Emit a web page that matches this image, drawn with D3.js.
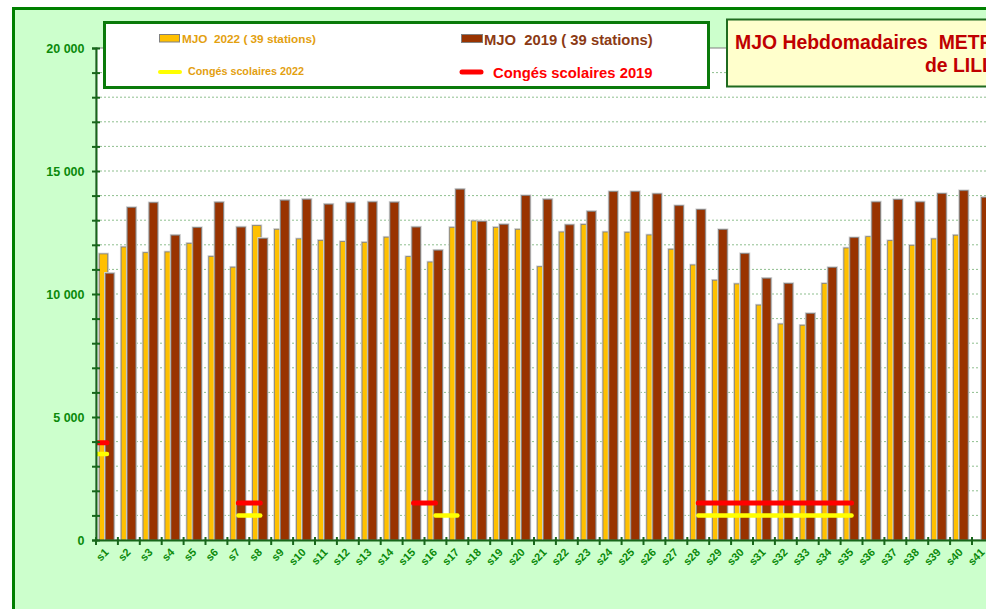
<!DOCTYPE html>
<html>
<head>
<meta charset="utf-8">
<script src="https://cdn.jsdelivr.net/npm/d3@7"></script>
<style>
  html, body { margin: 0; padding: 0; background: #ffffff; }
  svg { display: block; font-family: "Liberation Sans", Arial, sans-serif; }
  text { white-space: pre; }
</style>
</head>
<body>
<svg id="chart" width="986" height="609"></svg>
<script>
// ---- Data ----
const weeks = d3.range(1, 42).map(i => "s" + i);
const mjo2022 = [11630, 11910, 11680, 11710, 12060, 11530, 11090, 12780, 12630, 12240,
                 12180, 12130, 12100, 12310, 11520, 11300, 12710, 12970, 12710, 12630,
                 11110, 12520, 12830, 12520, 12510, 12400, 11820, 11180, 10560, 10410,
                 9550, 8780, 8730, 10430, 11870, 12330, 12170, 11980, 12240, 12390];
const mjo2019 = [10840, 13520, 13710, 12390, 12700, 13730, 12720, 12260, 13810, 13850,
                 13650, 13710, 13740, 13730, 12720, 11780, 14260, 12950, 12830, 14000,
                 13850, 12810, 13360, 14160, 14160, 14070, 13590, 13430, 12620, 11640,
                 10640, 10430, 9210, 11080, 12290, 13740, 13840, 13740, 14080, 14200, 13930];
// school holidays: [first week, last week, level]; week 0 = last week of previous year
const conges2019 = [[0, 1, 3950], [7, 8, 1500], [15, 16, 1500], [28, 35, 1500]];
const conges2022 = [[0, 1, 3500], [7, 8, 1000], [16, 17, 1000], [28, 35, 1000]];
const yTicks = [0, 5000, 10000, 15000, 20000];
const legend2022 = "MJO  2022 ( 39 stations)";
const legend2019 = "MJO  2019 ( 39 stations)";
const legendC2022 = "Congés scolaires 2022";
const legendC2019 = "Congés scolaires 2019";
const title1 = "MJO Hebdomadaires  METRO";
const title2 = "de LILLE";

// ---- Layout ----
const svg = d3.select("#chart");
const plotLeft = 96, plotTop = 48, plotBottom = 540, bandW = 21.9;
const plotRight = plotLeft + weeks.length * bandW;

const x = d3.scaleBand().domain(weeks).range([plotLeft, plotRight]).padding(0);
const y = d3.scaleLinear().domain([0, 20000]).range([plotBottom, plotTop]);
const bw = x.bandwidth();
const xc = w => plotLeft + (w - 0.5) * bw; // center of week index w

// outer frame
svg.append("rect").attr("x", 13.5).attr("y", 8.5).attr("width", 1200).attr("height", 800)
  .attr("fill", "#ccffcc").attr("stroke", "#008000").attr("stroke-width", 3);

// plot area
svg.append("rect").attr("x", plotLeft).attr("y", plotTop)
  .attr("width", plotRight - plotLeft + 300).attr("height", plotBottom - plotTop)
  .attr("fill", "#ffffff").attr("stroke", "#808080").attr("stroke-width", 1);

svg.append("clipPath").attr("id", "plotclip").append("rect")
  .attr("x", plotLeft).attr("y", plotTop - 5).attr("width", plotRight - plotLeft + 300).attr("height", plotBottom - plotTop + 5);

// gridlines
svg.append("g").selectAll("line").data(d3.range(1000, 20000, 1000)).join("line")
  .attr("x1", plotLeft).attr("x2", plotRight + 300)
  .attr("y1", d => y(d)).attr("y2", d => y(d))
  .attr("stroke", "#8fbf8f").attr("stroke-width", 1).attr("stroke-dasharray", "2,2");

// bars
const bars = svg.append("g").attr("clip-path", "url(#plotclip)");
function drawBars(vals, off, wid, color) {
  const g = bars.append("g");
  const data = vals.map((v, i) => ({ w: weeks[i], v }));
  g.selectAll("rect.halo").data(data).join("rect").attr("class", "halo")
    .attr("x", d => x(d.w) + off * bw).attr("width", wid * bw)
    .attr("y", d => y(d.v)).attr("height", d => y(0) - y(d.v))
    .attr("fill", "none").attr("stroke", "#d4d4d4").attr("stroke-width", 2.5);
  g.selectAll("rect.bar").data(data).join("rect").attr("class", "bar")
    .attr("x", d => x(d.w) + off * bw).attr("width", wid * bw)
    .attr("y", d => y(d.v)).attr("height", d => y(0) - y(d.v))
    .attr("fill", color).attr("stroke", "#7f7f7f").attr("stroke-width", 0.8);
}
drawBars(mjo2022, 0.15, 0.385, "#ffc000");
drawBars(mjo2019, 0.425, 0.395, "#993300");

// holiday lines
const line = d3.line().x(d => xc(d[0])).y(d => y(d[1]));
function drawConges(segs, color, w) {
  bars.append("g").selectAll("path").data(segs).join("path")
    .attr("d", s => line([[s[0], s[2]], [s[1], s[2]]]))
    .attr("fill", "none").attr("stroke", color).attr("stroke-width", w)
    .attr("stroke-linecap", "round");
}
drawConges(conges2019, "#ff0000", 5);
drawConges(conges2022, "#ffff00", 4.5);

// y axis
const axisColor = "#17661a";
const labelColor = "#0b8a0b";
const yAxis = svg.append("g").attr("transform", `translate(${plotLeft},0)`)
  .call(d3.axisLeft(y).tickValues(d3.range(0, 20001, 1000)).tickSize(4).tickFormat(""));
yAxis.select(".domain").attr("stroke", axisColor).attr("stroke-width", 2);
yAxis.selectAll(".tick line").attr("stroke", axisColor).attr("stroke-width", 2).attr("x1", 4).attr("x2", -4);
svg.append("g").selectAll("text").data(yTicks).join("text")
  .attr("x", 84.5).attr("y", d => y(d)).attr("dy", "0.36em")
  .attr("text-anchor", "end").attr("font-size", "12.5px").attr("font-weight", "bold")
  .attr("fill", labelColor)
  .text(d => d3.format(",")(d).replace(/,/g, " "));

// x axis
const xAxis = svg.append("g").attr("transform", `translate(0,${plotBottom})`)
  .call(d3.axisBottom(x).tickSize(0).tickFormat(""));
xAxis.select(".domain").attr("stroke", axisColor).attr("stroke-width", 2);
svg.append("g").selectAll("line").data(d3.range(0, weeks.length + 1)).join("line")
  .attr("x1", i => plotLeft + i * bw).attr("x2", i => plotLeft + i * bw)
  .attr("y1", plotBottom - 3).attr("y2", plotBottom + 5)
  .attr("stroke", axisColor).attr("stroke-width", 2);
svg.append("g").selectAll("text").data(weeks).join("text")
  .attr("transform", d => `translate(${x(d) + bw / 2 + 2.5},${plotBottom + 13}) rotate(-45)`)
  .attr("text-anchor", "end").attr("font-size", "11px").attr("font-weight", "bold")
  .attr("fill", labelColor).text(d => d);

// legend box
const lg = svg.append("g");
lg.append("rect").attr("x", 104.5).attr("y", 22.5).attr("width", 604).attr("height", 65)
  .attr("fill", "#ffffff").attr("stroke", "#0a7a0a").attr("stroke-width", 3);
lg.append("rect").attr("x", 159.5).attr("y", 34.5).attr("width", 20).attr("height", 7.5)
  .attr("fill", "#ffc000").attr("stroke", "#808080").attr("stroke-width", 1);
lg.append("text").attr("x", 182).attr("y", 42.5).attr("font-size", "11.75px").attr("font-weight", "bold")
  .attr("fill", "#e3a00f").text(legend2022);
lg.append("line").attr("x1", 160).attr("x2", 180).attr("y1", 72).attr("y2", 72)
  .attr("stroke", "#ffff00").attr("stroke-width", 4).attr("stroke-linecap", "round");
lg.append("text").attr("x", 188).attr("y", 74.5).attr("font-size", "10.75px").attr("font-weight", "bold")
  .attr("fill", "#e3a00f").text(legendC2022);
lg.append("rect").attr("x", 461.5).attr("y", 34.5).attr("width", 21).attr("height", 8)
  .attr("fill", "#993300").attr("stroke", "#808080").attr("stroke-width", 1);
lg.append("text").attr("x", 484).attr("y", 44.5).attr("font-size", "14.8px").attr("font-weight", "bold")
  .attr("fill", "#8b3a14").text(legend2019);
lg.append("line").attr("x1", 462).attr("x2", 481).attr("y1", 72).attr("y2", 72)
  .attr("stroke", "#ff0000").attr("stroke-width", 5).attr("stroke-linecap", "round");
lg.append("text").attr("x", 493).attr("y", 77.5).attr("font-size", "14.8px").attr("font-weight", "bold")
  .attr("fill", "#ff0000").text(legendC2019);

// title box
const tg = svg.append("g");
tg.append("rect").attr("x", 727).attr("y", 19.5).attr("width", 400).attr("height", 67)
  .attr("fill", "#ffffcc").attr("stroke", "#1f6b1f").attr("stroke-width", 2);
tg.append("text").attr("x", 735).attr("y", 48.5).attr("font-size", "19.4px").attr("font-weight", "bold")
  .attr("fill", "#c00000").text(title1);
tg.append("text").attr("x", 925).attr("y", 71.5).attr("font-size", "19.4px").attr("font-weight", "bold")
  .attr("fill", "#c00000").text(title2);
</script>
</body>
</html>
